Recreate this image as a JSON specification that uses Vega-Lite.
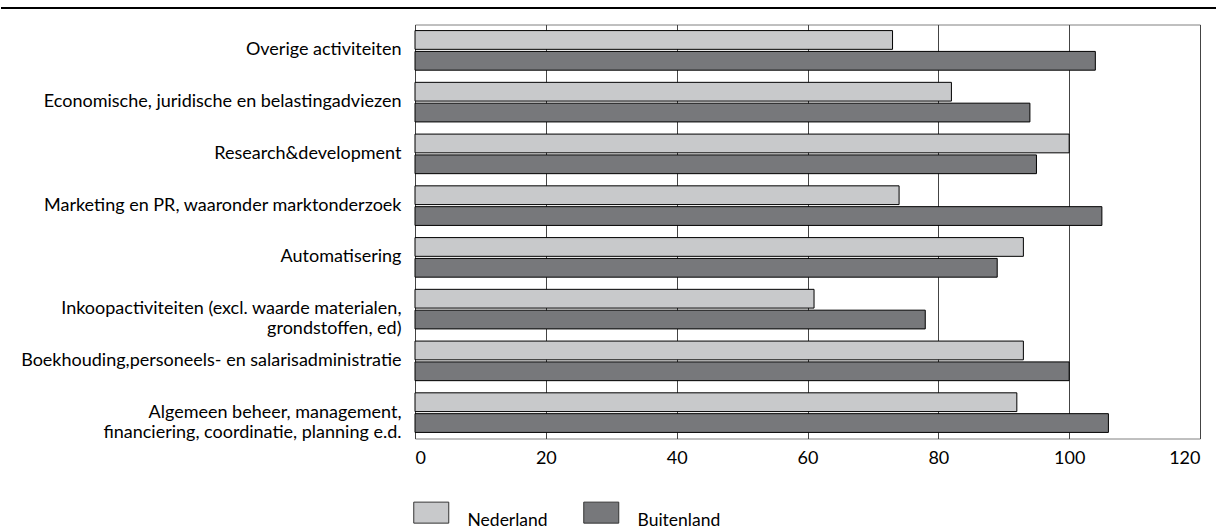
{
  "$schema": "https://vega.github.io/schema/vega-lite/v6.json",
  "padding": {"left": 0, "top": 7, "right": 0, "bottom": 0},
  "spacing": 14.5,
  "columns": 1,
  "config": {
    "font": "Lato",
    "view": {"stroke": null},
    "axis": {"labelColor": "#000000", "labelFont": "Lato"},
    "legend": {"labelColor": "#000000", "labelFont": "Lato"}
  },
  "concat": [
    {
      "width": 802,
      "height": 2,
      "data": {"values": [{"begin": 0, "end": 1}]},
      "mark": {"type": "rule", "color": "#000000", "strokeWidth": 2},
      "encoding": {
        "x": {"field": "begin", "type": "quantitative", "axis": null, "scale": {"domain": [0, 1], "range": [-414, 802], "nice": false, "zero": false}},
        "x2": {"field": "end"}
      }
    },
    {
      "width": 785,
      "height": 414,
      "view": {"stroke": "#808080", "strokeWidth": 1},
      "data": {
        "values": [
          {"activiteit": "Overige activiteiten", "reeks": "Nederland", "waarde": 73},
          {"activiteit": "Overige activiteiten", "reeks": "Buitenland", "waarde": 104},
          {"activiteit": "Economische, juridische en belastingadviezen", "reeks": "Nederland", "waarde": 82},
          {"activiteit": "Economische, juridische en belastingadviezen", "reeks": "Buitenland", "waarde": 94},
          {"activiteit": "Research&development", "reeks": "Nederland", "waarde": 100},
          {"activiteit": "Research&development", "reeks": "Buitenland", "waarde": 95},
          {"activiteit": "Marketing en PR, waaronder marktonderzoek", "reeks": "Nederland", "waarde": 74},
          {"activiteit": "Marketing en PR, waaronder marktonderzoek", "reeks": "Buitenland", "waarde": 105},
          {"activiteit": "Automatisering", "reeks": "Nederland", "waarde": 93},
          {"activiteit": "Automatisering", "reeks": "Buitenland", "waarde": 89},
          {"activiteit": "Inkoopactiviteiten (excl. waarde materialen, grondstoffen, ed)", "reeks": "Nederland", "waarde": 61},
          {"activiteit": "Inkoopactiviteiten (excl. waarde materialen, grondstoffen, ed)", "reeks": "Buitenland", "waarde": 78},
          {"activiteit": "Boekhouding,personeels- en salarisadministratie", "reeks": "Nederland", "waarde": 93},
          {"activiteit": "Boekhouding,personeels- en salarisadministratie", "reeks": "Buitenland", "waarde": 100},
          {"activiteit": "Algemeen beheer, management, financiering, coordinatie, planning e.d.", "reeks": "Nederland", "waarde": 92},
          {"activiteit": "Algemeen beheer, management, financiering, coordinatie, planning e.d.", "reeks": "Buitenland", "waarde": 106}
        ]
      },
      "mark": {"type": "bar", "stroke": "#000000", "strokeWidth": 1},
      "encoding": {
        "y": {
          "field": "activiteit",
          "type": "nominal",
          "sort": null,
          "scale": {"paddingInner": 0.235, "paddingOuter": 0.1176},
          "axis": {
            "title": null,
            "domain": false,
            "ticks": false,
            "labelPadding": 14,
            "labelFontSize": 18,
            "labelLimit": 0,
            "labelLineHeight": 20,
            "minExtent": 414,
            "maxExtent": 414,
            "labelExpr": "datum.label === 'Inkoopactiviteiten (excl. waarde materialen, grondstoffen, ed)' ? ['Inkoopactiviteiten (excl. waarde materialen,', 'grondstoffen, ed)'] : datum.label === 'Algemeen beheer, management, financiering, coordinatie, planning e.d.' ? ['Algemeen beheer, management,', 'financiering, coordinatie, planning e.d.'] : datum.label"
          }
        },
        "yOffset": {
          "field": "reeks",
          "type": "nominal",
          "sort": ["Nederland", "Buitenland"],
          "scale": {"paddingInner": 0.1, "paddingOuter": 0}
        },
        "x": {
          "field": "waarde",
          "type": "quantitative",
          "scale": {"domain": [0, 120], "nice": false},
          "axis": {
            "title": null,
            "values": [0, 20, 40, 60, 80, 100, 120],
            "grid": true,
            "gridColor": "#444444",
            "gridOpacity": 1,
            "gridWidth": 1,
            "domain": false,
            "ticks": false,
            "labelPadding": 11,
            "labelFontSize": 18
          }
        },
        "color": {
          "field": "reeks",
          "type": "nominal",
          "scale": {"domain": ["Nederland", "Buitenland"], "range": ["#c8c9cb", "#77787b"]},
          "legend": {
            "title": null,
            "orient": "none",
            "direction": "horizontal",
            "legendX": 7.5,
            "legendY": 505,
            "padding": 0,
            "symbolType": "M-3.5,-3.8L3.5,-3.8L3.5,0.4L-3.5,0.4Z",
            "symbolSize": 100,
            "symbolStrokeColor": "#333333",
            "symbolStrokeWidth": 1,
            "symbolOpacity": 1,
            "labelOffset": 27.5,
            "labelFontSize": 17.5,
            "labelBaseline": "middle",
            "columnPadding": 33
          }
        }
      }
    }
  ]
}
